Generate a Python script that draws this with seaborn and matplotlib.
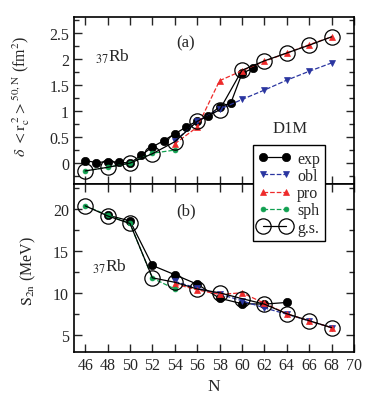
import numpy as np
import pandas as pd
import matplotlib
matplotlib.use("Agg")
import matplotlib.pyplot as plt
from matplotlib.ticker import MultipleLocator, FuncFormatter
import seaborn as sns

# ---------------- data ----------------
# panel (a): charge radius difference
exp_a_N = [46, 47, 48, 49, 50, 51, 52, 53, 54, 55, 56, 57, 58, 59, 60, 61]
exp_a_v = [0.05, 0.01, 0.03, 0.02, 0.0, 0.15, 0.31, 0.43, 0.56, 0.69, 0.81, 0.91, 1.08, 1.15, 1.72, 1.82]
obl_a_N = [54, 56, 58, 60, 62, 64, 66, 68]
obl_a_v = [0.42, 0.80, 1.03, 1.22, 1.40, 1.59, 1.76, 1.92]
pro_a_N = [54, 56, 58, 60, 62, 64, 66, 68]
pro_a_v = [0.37, 0.69, 1.58, 1.77, 1.95, 2.11, 2.27, 2.42]
sph_a_N = [46, 48, 50, 52, 54]
sph_a_v = [-0.15, -0.08, 0.0, 0.19, 0.25]
gs_a_N = [46, 48, 50, 52, 54, 56, 58, 60, 62, 64, 66, 68]
gs_a_v = [-0.15, -0.08, 0.0, 0.18, 0.41, 0.80, 1.02, 1.78, 1.96, 2.11, 2.26, 2.42]

# panel (b): two-neutron separation energy
exp_b_N = [48, 50, 52, 54, 56, 58, 60, 62, 64]
exp_b_v = [19.3, 18.6, 13.3, 12.2, 11.07, 9.4, 8.75, 8.7, 8.9]
obl_b_N = [54, 56, 58, 60, 62, 64, 66, 68]
obl_b_v = [11.4, 10.6, 9.9, 9.1, 8.25, 7.5, 6.7, 5.9]
pro_b_N = [54, 56, 58, 60, 62, 64, 66, 68]
pro_b_v = [11.1, 10.4, 9.85, 10.05, 8.8, 7.55, 6.7, 5.9]
sph_b_N = [46, 48, 50, 52, 54]
sph_b_v = [20.4, 19.3, 18.3, 11.8, 10.5]
gs_b_N = [46, 48, 50, 52, 54, 56, 58, 60, 62, 64, 66, 68]
gs_b_v = [20.4, 19.2, 18.3, 11.83, 11.3, 10.5, 10.05, 9.35, 8.7, 7.55, 6.72, 5.9]

x_ticks = [46, 48, 50, 52, 54, 56, 58, 60, 62, 64, 66, 68, 70]

# ---------------- style ----------------
sns.set_theme(style="ticks")
plt.rcParams['font.family'] = ['Liberation Serif', 'DejaVu Serif']
plt.rcParams['mathtext.fontset'] = 'stix'
plt.rcParams['font.size'] = 11

BLUE = '#2a35a0'
RED = '#ee2a2a'
GREEN = '#10a050'

fig = plt.figure(figsize=(3.87, 4.02), dpi=100)
L, R = 74 / 387, 354 / 387
ax1 = fig.add_axes([L, 1 - 185 / 402, R - L, (185 - 18) / 402])
ax2 = fig.add_axes([L, 1 - 353 / 402, R - L, (353 - 185) / 402], sharex=ax1)


def draw(ax, sets):
    specs = [
        ('exp', dict(color='black', marker='o', ms=6, ls='-', lw=0.9, mfc='black', mec='black')),
        ('obl', dict(color=BLUE, marker='v', ms=5, ls='--', lw=0.9, mfc=BLUE, mec=BLUE)),
        ('pro', dict(color=RED, marker='^', ms=5, ls='--', lw=0.9, mfc=RED, mec=RED)),
        ('sph', dict(color=GREEN, marker='o', ms=3.5, ls='--', lw=0.9, mfc=GREEN, mec=GREEN)),
        ('g.s.', dict(color='black', marker='o', ms=11, ls='-', lw=0.9, mfc='none', mec='black', mew=0.9)),
    ]
    for (name, st), (xs, ys) in zip(specs, sets):
        df = pd.DataFrame({'N': xs, 'v': ys})
        sns.lineplot(data=df, x='N', y='v', ax=ax, sort=False, label=name,
                     color=st['color'], marker=st['marker'], markersize=st['ms'],
                     linestyle=st['ls'], linewidth=st['lw'],
                     markerfacecolor=st['mfc'], markeredgecolor=st['mec'],
                     markeredgewidth=st.get('mew', 0.5), estimator=None)


draw(ax1, [(exp_a_N, exp_a_v), (obl_a_N, obl_a_v), (pro_a_N, pro_a_v),
           (sph_a_N, sph_a_v), (gs_a_N, gs_a_v)])
draw(ax2, [(exp_b_N, exp_b_v), (obl_b_N, obl_b_v), (pro_b_N, pro_b_v),
           (sph_b_N, sph_b_v), (gs_b_N, gs_b_v)])

handles, labels = ax2.get_legend_handles_labels()
for ax in (ax1, ax2):
    if ax.get_legend() is not None:
        ax.get_legend().remove()

ax1.set_xlim(45, 70)
ax1.set_ylim(-0.4, 2.8)
ax2.set_ylim(3, 23)
ax2.set_xticks(x_ticks)
ax1.yaxis.set_major_locator(MultipleLocator(0.5))
ax1.yaxis.set_minor_locator(MultipleLocator(0.25))
ax1.yaxis.set_major_formatter(FuncFormatter(lambda v, p: '%g' % v))
ax2.yaxis.set_major_locator(MultipleLocator(5))
ax2.yaxis.set_minor_locator(MultipleLocator(2.5))

for ax in (ax1, ax2):
    ax.tick_params(which='both', direction='in', top=True, right=True, labelsize=11.5)
    ax.tick_params(which='major', length=6, width=1)
    ax.tick_params(which='minor', length=3.5, width=1)
    for s in ax.spines.values():
        s.set_linewidth(1.2)
        s.set_color('black')
plt.setp(ax1.get_xticklabels(), visible=False)

ax1.set_xlabel('')
ax1.set_ylabel(r'$\delta\ <\mathrm{r}_\mathrm{c}^{\;2}>^{50,\mathrm{N}}$ (fm$^2$)', fontsize=11.5)
ax1.yaxis.set_label_coords(-0.15, 0.53)
ax2.set_ylabel(r'$\mathrm{S}_\mathrm{2n}$ (MeV)', fontsize=11.5)
ax2.yaxis.set_label_coords(-0.13, 0.49)
ax2.set_xlabel('N', fontsize=12.5)

ax1.text(0.40, 0.85, '(a)', transform=ax1.transAxes, ha='center', va='center', fontsize=12)
ax1.text(0.075, 0.737, r'$_{37}$Rb', transform=ax1.transAxes, ha='left', va='baseline', fontsize=12.5)
ax1.text(0.77, 0.338, 'D1M', transform=ax1.transAxes, ha='center', va='center', fontsize=12)
ax2.text(0.40, 0.845, '(b)', transform=ax2.transAxes, ha='center', va='center', fontsize=12)
ax2.text(0.064, 0.484, r'$_{37}$Rb', transform=ax2.transAxes, ha='left', va='baseline', fontsize=12.5)

leg = fig.legend(handles, labels, loc='upper left', bbox_to_anchor=(253 / 387, 1 - 146 / 402),
                 bbox_transform=fig.transFigure, borderaxespad=0, numpoints=2,
                 handlelength=2.0, handletextpad=0.4, labelspacing=0.08, borderpad=0.35,
                 fancybox=False, framealpha=1, edgecolor='black', fontsize=11.5)
leg.get_frame().set_linewidth(1.0)

fig.savefig('out.png', dpi=100)
